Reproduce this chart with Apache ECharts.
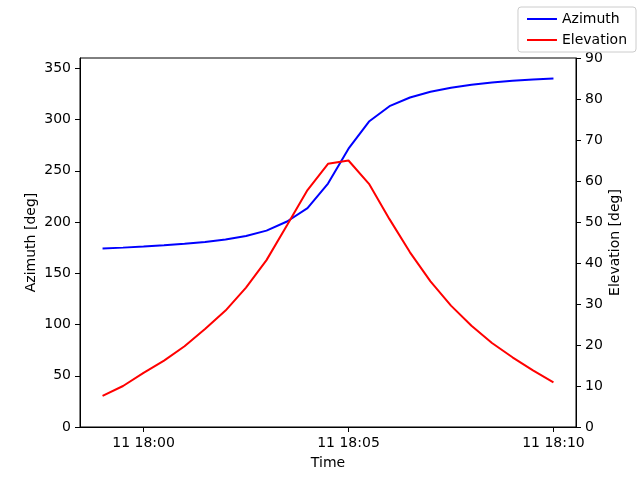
<!DOCTYPE html>
<html><head><meta charset="utf-8">
<script src="https://cdn.jsdelivr.net/npm/echarts@6/dist/echarts.min.js"></script>
<style>html,body{margin:0;padding:0;background:#fff}#c{width:640px;height:480px}</style>
</head><body><div id="c"></div>
<script>
const day = '2000-01-11';
const times = ['17:59:00','17:59:30','18:00:00','18:00:30','18:01:00','18:01:30','18:02:00','18:02:30',
  '18:03:00','18:03:30','18:04:00','18:04:30','18:05:00','18:05:30','18:06:00','18:06:30','18:07:00',
  '18:07:30','18:08:00','18:08:30','18:09:00','18:09:30','18:10:00'];
const azimuth = [174.2,175.0,176.0,177.2,178.7,180.6,183.0,186.4,191.6,200.5,213.5,237.5,271.5,
  298.0,313.0,321.5,327.0,331.0,334.0,336.0,337.7,339.0,340.0];
const elevation = [7.6,10.0,13.2,16.2,19.7,23.9,28.4,34.0,40.7,49.2,57.8,64.2,65.0,
  59.3,50.7,42.6,35.5,29.6,24.7,20.5,17.0,13.8,10.9];
const xTickTimes = ['18:00:00','18:05:00','18:10:00'];
const azTicks = [0,50,100,150,200,250,300,350];

const ts = t => Date.parse(day + 'T' + t + 'Z');
const t0 = ts(times[0]), t1 = ts(times[times.length-1]);
const pad = (t1 - t0) * 0.05;
const fmt = v => { const d = new Date(v); const p = n => String(n).padStart(2,'0');
  return d.getUTCDate() + ' ' + p(d.getUTCHours()) + ':' + p(d.getUTCMinutes()); };
const font = 'DejaVu Sans';
const axisCommon = {
  axisLine: {show: true, lineStyle: {color: '#000', width: 1}},
  axisTick: {show: true, inside: false, length: 5, lineStyle: {color: '#000', width: 1}},
  axisLabel: {color: '#000', fontFamily: font, fontSize: 14, margin: 9},
  splitLine: {show: false},
  nameMoveOverlap: false,
  nameTextStyle: {color: '#000', fontFamily: font, fontSize: 14}
};
const chart = echarts.init(document.getElementById('c'));
chart.setOption({
  animation: false,
  backgroundColor: '#fff',
  grid: {left: 80, right: 64, top: 58, bottom: 53, show: true, borderColor: '#000', borderWidth: 1, backgroundColor: 'transparent'},
  legend: {
    orient: 'vertical', right: 4, top: 7, itemWidth: 30, itemHeight: 2, itemGap: 7,
    padding: [5, 9, 5, 9], borderColor: '#cccccc', borderWidth: 1, borderRadius: 3,
    textStyle: {color: '#000', fontFamily: font, fontSize: 14},
    data: [{name: 'Azimuth', icon: 'rect'}, {name: 'Elevation', icon: 'rect'}]
  },
  xAxis: Object.assign({}, axisCommon, {
    type: 'value', min: t0 - pad, max: t1 + pad,
    name: 'Time', nameLocation: 'middle', nameGap: 29,
    axisTick: Object.assign({}, axisCommon.axisTick, {customValues: xTickTimes.map(ts)}),
    axisLabel: Object.assign({}, axisCommon.axisLabel, {customValues: xTickTimes.map(ts), formatter: fmt})
  }),
  yAxis: [
    Object.assign({}, axisCommon, {
      type: 'value', min: 0, max: 360, position: 'left',
      name: 'Azimuth [deg]', nameLocation: 'middle', nameGap: 42,
      axisTick: Object.assign({}, axisCommon.axisTick, {customValues: azTicks}),
      axisLabel: Object.assign({}, axisCommon.axisLabel, {customValues: azTicks})
    }),
    Object.assign({}, axisCommon, {
      type: 'value', min: 0, max: 90, interval: 10, position: 'right',
      name: 'Elevation [deg]', nameLocation: 'middle', nameGap: 32
    })
  ],
  series: [
    {name: 'Azimuth', type: 'line', yAxisIndex: 0, symbol: 'none', color: '#0000ff',
     lineStyle: {width: 2, color: '#0000ff'}, data: times.map((t, i) => [ts(t), azimuth[i]])},
    {name: 'Elevation', type: 'line', yAxisIndex: 1, symbol: 'none', color: '#ff0000',
     lineStyle: {width: 2, color: '#ff0000'}, data: times.map((t, i) => [ts(t), elevation[i]])}
  ]
});
</script></body></html>
